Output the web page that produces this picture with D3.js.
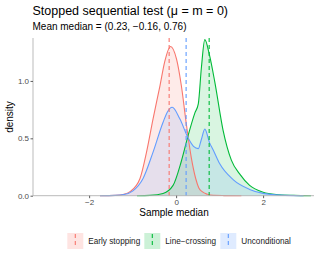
<!DOCTYPE html>
<head>
	<meta charset="utf-8">
	<title>Stopped sequential test</title>
<style>
	body {
		margin: 0;
		background: #ffffff;
		font-family: "Liberation Sans", Arial, sans-serif;
	}
	svg { display: block; }
	.title { font-size: 12.5px; fill: #000; }
	.subtitle { font-size: 10px; fill: #000; }
	.axis-label { font-size: 10px; fill: #000; }
	.tick-label { font-size: 8px; fill: #4d4d4d; }
	.legend-label { font-size: 8.2px; fill: #1a1a1a; }
</style>
</head>
<body>
<script src="https://cdn.jsdelivr.net/npm/d3@7"></script>
<script>
	// groups, in legend order
	var groups = ["Early stopping", "Line\u2212crossing", "Unconditional"];
	var colours = ["#F8766D", "#00BA38", "#619CFF"];
	var meanMedians = [-0.16, 0.76, 0.23];

	// density curves
	var earlyX = [-1.75, -1.4, -1.2, -1.06, -0.83, -0.68, -0.53, -0.37, -0.26, -0.13, 0.01, 0.12, 0.24, 0.35, 0.45, 0.52, 0.6, 0.72, 0.85, 1.1, 1.5];
	var earlyD = [0, 0.003, 0.012, 0.035, 0.15, 0.38, 0.67, 0.96, 1.17, 1.30, 1.19, 0.96, 0.61, 0.33, 0.15, 0.07, 0.035, 0.012, 0.003, 0.001, 0];

	var crossX = [-0.9, -0.6, -0.3, -0.07, 0.12, 0.28, 0.43, 0.51, 0.58, 0.66, 0.77, 0.89, 1.08, 1.27, 1.46, 1.69, 2.0, 2.3, 2.7, 3.1];
	var crossD = [0, 0.003, 0.02, 0.09, 0.30, 0.53, 0.72, 0.80, 1.11, 1.36, 1.22, 0.99, 0.57, 0.31, 0.19, 0.09, 0.03, 0.01, 0.003, 0];

	var uncondX = [-1.75, -1.4, -1.2, -1.0, -0.76, -0.53, -0.3, -0.2, -0.09, 0.085, 0.28, 0.4, 0.51, 0.58, 0.66, 0.77, 0.85, 1.0, 1.31, 1.69, 2.0, 2.4, 2.93];
	var uncondD = [0, 0.003, 0.01, 0.04, 0.15, 0.38, 0.64, 0.73, 0.77, 0.67, 0.50, 0.43, 0.41, 0.49, 0.58, 0.46, 0.40, 0.28, 0.14, 0.055, 0.02, 0.005, 0];

	var xTicks = [-2, 0, 2];
	var yTicks = [0, 0.5, 1.0];

	var width = 325;
	var height = 260;

	var series = [
		d3.zip(earlyX, earlyD),
		d3.zip(crossX, crossD),
		d3.zip(uncondX, uncondD)
	];

	var svg = d3.select("body").append("svg")
		.attr("width", width)
		.attr("height", height);

	var x = d3.scaleLinear().domain([-3.29, 3.17]).range([33, 314]);
	var y = d3.scaleLinear().domain([0, 1.374]).range([195.7, 38]);

	// titles
	svg.append("text").attr("class", "title")
		.attr("x", 32.5).attr("y", 15)
		.text("Stopped sequential test (\u03bc = m = 0)");
	svg.append("text").attr("class", "subtitle")
		.attr("x", 32.5).attr("y", 30)
		.text("Mean median = (0.23, \u22120.16, 0.76)");

	// densities
	var area = d3.area()
		.x(function(d) { return x(d[0]); })
		.y0(y(0))
		.y1(function(d) { return y(d[1]); })
		.curve(d3.curveMonotoneX);
	var line = d3.line()
		.x(function(d) { return x(d[0]); })
		.y(function(d) { return y(d[1]); })
		.curve(d3.curveMonotoneX);

	var plot = svg.append("g");
	series.forEach(function(s, i) {
		plot.append("path")
			.attr("d", area(s))
			.attr("fill", colours[i])
			.attr("fill-opacity", 0.15);
	});
	series.forEach(function(s, i) {
		plot.append("path")
			.attr("d", line(s))
			.attr("fill", "none")
			.attr("stroke", colours[i])
			.attr("stroke-width", 1.1);
	});

	// mean medians
	plot.selectAll("line.mean")
		.data(meanMedians)
		.enter().append("line")
		.attr("class", "mean")
		.attr("x1", function(d) { return x(d); })
		.attr("x2", function(d) { return x(d); })
		.attr("y1", y.range()[1])
		.attr("y2", y(0))
		.attr("stroke", function(d, i) { return colours[i]; })
		.attr("stroke-width", 1.1)
		.attr("stroke-dasharray", "4,3");

	// axes
	var xAxis = svg.append("g")
		.attr("transform", "translate(0," + y(0) + ")")
		.call(d3.axisBottom(x).tickValues(xTicks).tickSize(2.5)
			.tickFormat(function(d) { return d < 0 ? "\u2212" + Math.abs(d) : d; }));
	var yAxis = svg.append("g")
		.attr("transform", "translate(" + x.range()[0] + ",0)")
		.call(d3.axisLeft(y).tickValues(yTicks).tickSize(2.5).tickFormat(d3.format(".1f")));

	[xAxis, yAxis].forEach(function(a) {
		a.select(".domain").attr("stroke", "#b3b3b3").attr("stroke-width", 0.9);
		a.selectAll(".tick line").attr("stroke", "#4d4d4d").attr("stroke-width", 0.9);
		a.selectAll(".tick text").attr("class", "tick-label")
			.attr("font-family", null).attr("font-size", null).attr("fill", null);
	});
	xAxis.select(".domain").attr("d", "M" + x.range()[0] + ",0H" + x.range()[1]);
	yAxis.select(".domain").attr("d", "M0," + y.range()[1] + "V" + y.range()[0]);
	xAxis.selectAll(".tick text").attr("y", 3).attr("dy", "0.75em");
	yAxis.selectAll(".tick text").attr("x", -4);

	svg.append("text").attr("class", "axis-label")
		.attr("x", 174).attr("y", 216)
		.attr("text-anchor", "middle")
		.text("Sample median");
	svg.append("text").attr("class", "axis-label")
		.attr("transform", "translate(13," + 117 + ") rotate(-90)")
		.attr("text-anchor", "middle")
		.text("density");

	// legend
	var legendX = [67.3, 144.3, 220.3];
	var legend = svg.selectAll("g.key")
		.data(groups)
		.enter().append("g")
		.attr("class", "key")
		.attr("transform", function(d, i) { return "translate(" + legendX[i] + ",233)"; });
	legend.append("rect")
		.attr("width", 16).attr("height", 16)
		.attr("fill", function(d, i) { return colours[i]; })
		.attr("fill-opacity", 0.2);
	legend.append("line")
		.attr("x1", 8).attr("x2", 8)
		.attr("y1", 1).attr("y2", 15)
		.attr("stroke", function(d, i) { return colours[i]; })
		.attr("stroke-width", 1.1)
		.attr("stroke-dasharray", "4,3");
	legend.append("text").attr("class", "legend-label")
		.attr("x", 21).attr("y", 11)
		.text(function(d) { return d; });
</script>
</body>
